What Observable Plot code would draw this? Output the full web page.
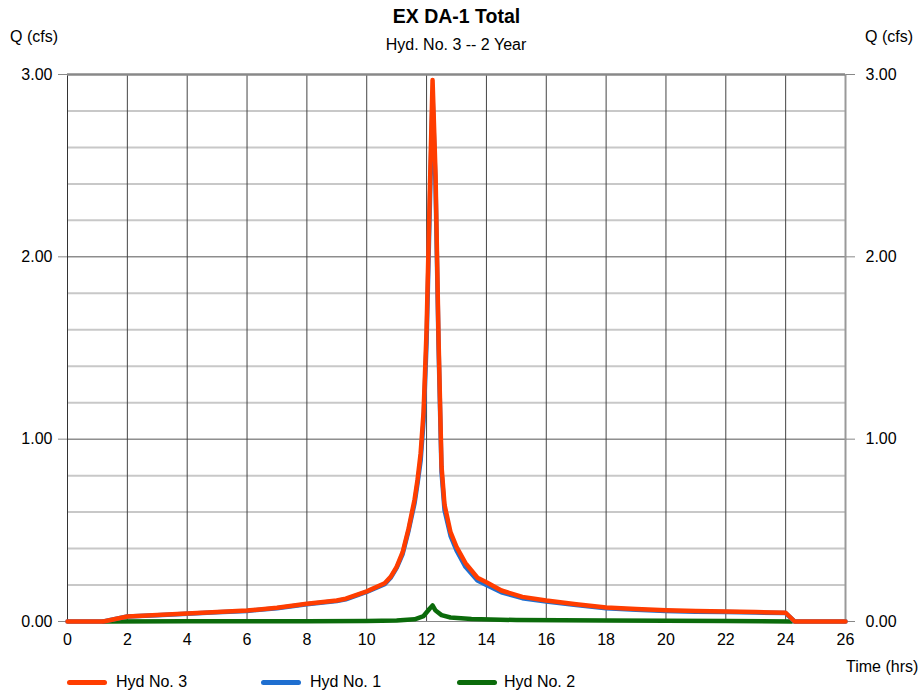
<!DOCTYPE html>
<html>
<head>
<meta charset="utf-8">
<script src="https://cdn.jsdelivr.net/npm/d3@7"></script>
<script src="https://cdn.jsdelivr.net/npm/@observablehq/plot@0.6"></script>
<style>
  body { margin: 0; background: #fff; }
  #wrap { position: relative; width: 923px; height: 693px; font-family: "Liberation Sans", Arial, sans-serif; color: #000; }
  #wrap svg { position: absolute; left: 0; top: 0; }
  .t { position: absolute; line-height: 1; white-space: nowrap; }
  .sw { position: absolute; height: 5px; border-radius: 2.5px; width: 40px; }
</style>
</head>
<body>
<div id="wrap">
  <div class="t" style="left:0;width:913px;text-align:center;top:7px;font-size:19.5px;font-weight:bold;">EX DA-1 Total</div>
  <div class="t" style="left:0;width:912px;text-align:center;top:37px;font-size:16px;">Hyd. No. 3 -- 2 Year</div>
  <div class="t" style="left:10px;top:29px;font-size:16px;">Q (cfs)</div>
  <div class="t" style="left:865px;top:29px;font-size:16px;">Q (cfs)</div>
  <div class="t" style="left:846px;top:659px;font-size:16px;">Time (hrs)</div>
  <div id="legend"></div>
</div>
<script>
// Hydrograph ordinates, time in hours
const times = [0, 1.2, 2, 3, 4, 5, 6, 7, 8, 9, 9.3, 10, 10.6, 10.8, 11, 11.2, 11.4, 11.6, 11.7, 11.8, 11.9, 12, 12.1, 12.2, 12.3, 12.4, 12.5, 12.6, 12.8, 13, 13.3, 13.7, 14, 14.5, 15.2, 16, 17, 18, 19, 20, 21, 22, 23, 24, 24.3, 26];
// Hyd No. 3 (total), cfs
const hyd3 = [0, 0, 0.027, 0.035, 0.044, 0.052, 0.060, 0.075, 0.097, 0.115, 0.125, 0.165, 0.21, 0.245, 0.30, 0.38, 0.51, 0.67, 0.78, 0.92, 1.15, 1.60, 2.30, 2.97, 2.45, 1.55, 0.85, 0.64, 0.49, 0.41, 0.32, 0.24, 0.215, 0.17, 0.135, 0.115, 0.095, 0.077, 0.068, 0.062, 0.058, 0.055, 0.052, 0.048, 0, 0];
// Hyd No. 1, cfs
const hyd1 = [0, 0, 0.027, 0.034, 0.043, 0.051, 0.058, 0.073, 0.095, 0.112, 0.122, 0.162, 0.205, 0.24, 0.294, 0.37, 0.50, 0.65, 0.76, 0.88, 1.10, 1.53, 2.22, 2.88, 2.39, 1.51, 0.82, 0.61, 0.47, 0.39, 0.30, 0.225, 0.20, 0.16, 0.128, 0.109, 0.090, 0.072, 0.064, 0.058, 0.054, 0.052, 0.049, 0.046, 0, 0];
// Hyd No. 2, cfs
const times2 = [1.2, 4, 8, 10, 11, 11.6, 11.9, 12.1, 12.2, 12.3, 12.5, 12.8, 13.5, 15, 18, 22, 24.2];
const hyd2 = [0, 0.001, 0.002, 0.003, 0.006, 0.012, 0.03, 0.07, 0.088, 0.06, 0.035, 0.022, 0.014, 0.008, 0.005, 0.003, 0];

const yTicks = [0, 1, 2, 3];
const yMinor = [0.2, 0.4, 0.6, 0.8, 1.2, 1.4, 1.6, 1.8, 2.2, 2.4, 2.6, 2.8];
const xTicks = [0, 2, 4, 6, 8, 10, 12, 14, 16, 18, 20, 22, 24, 26];
const xGrid = [2, 4, 6, 8, 10, 12, 14, 16, 18, 20, 22, 24];

const series = [
  {name: "Hyd No. 3", color: "#ff3d00"},
  {name: "Hyd No. 1", color: "#1f6fd0"},
  {name: "Hyd No. 2", color: "#0b6b0b"}
];

const rows = (t, q) => t.map((d, i) => ({t: d, q: q[i]}));

const chart = Plot.plot({
  width: 923,
  height: 693,
  marginLeft: 67,
  marginRight: 78,
  marginTop: 74,
  marginBottom: 72,
  x: {domain: [0, 26]},
  y: {domain: [0, 3]},
  style: {fontFamily: "Liberation Sans, Arial, sans-serif", fontSize: "16px", color: "#000", background: "transparent", overflow: "visible"},
  marks: [
    Plot.ruleY(yMinor, {stroke: "#c8c8c8", strokeWidth: 2}),
    Plot.ruleY([1, 2], {stroke: "#555", strokeWidth: 1}),
    Plot.ruleX(xGrid, {stroke: "#444", strokeWidth: 1}),
    Plot.ruleX([0], {stroke: "#333", strokeWidth: 1}),
    Plot.ruleX([26], {stroke: "#999", strokeWidth: 2}),
    Plot.ruleY([3], {stroke: "#888", strokeWidth: 2.5}),
    Plot.ruleY([0], {stroke: "#888", strokeWidth: 1}),
    Plot.axisY(yTicks, {anchor: "left", tickSize: 9, tickPadding: 6, tickFormat: d => d.toFixed(2), label: null, stroke: "#888", fontSize: 16}),
    Plot.axisY(yTicks, {anchor: "right", tickSize: 9, tickPadding: 11, tickFormat: d => d.toFixed(2), label: null, stroke: "#888", fontSize: 16}),
    Plot.axisX(xTicks, {anchor: "bottom", tickSize: 0, tickPadding: 12, label: null, fontSize: 16}),
    Plot.line(rows(times2, hyd2), {x: "t", y: "q", stroke: series[2].color, strokeWidth: 4.5, strokeLinejoin: "round"}),
    Plot.line(rows(times, hyd1), {x: "t", y: "q", stroke: series[1].color, strokeWidth: 4.5, strokeLinejoin: "round"}),
    Plot.line(rows(times, hyd3), {x: "t", y: "q", stroke: series[0].color, strokeWidth: 4.5, strokeLinejoin: "round"})
  ]
});
document.getElementById("wrap").prepend(chart);

// Legend row under the chart
const legendPos = [{sw: 67, tx: 116}, {sw: 261, tx: 310}, {sw: 457, tx: 504}];
const legend = document.getElementById("legend");
series.forEach((s, i) => {
  const sw = document.createElement("div");
  sw.className = "sw";
  sw.style.left = legendPos[i].sw + "px";
  sw.style.top = "680px";
  sw.style.background = s.color;
  legend.appendChild(sw);
  const tx = document.createElement("div");
  tx.className = "t";
  tx.style.left = legendPos[i].tx + "px";
  tx.style.top = "674px";
  tx.style.fontSize = "16px";
  tx.textContent = s.name;
  legend.appendChild(tx);
});
</script>
</body>
</html>
